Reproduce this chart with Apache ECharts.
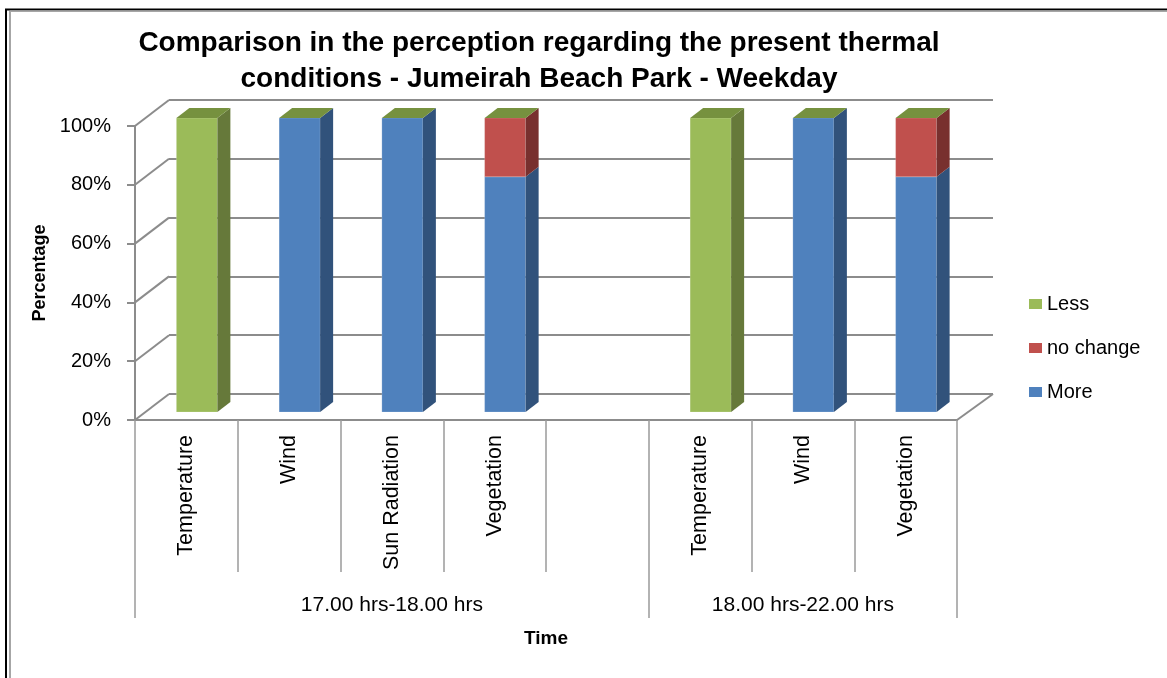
<!DOCTYPE html>
<html>
<head>
<meta charset="utf-8">
<script src="https://cdn.jsdelivr.net/npm/echarts@6/dist/echarts.min.js"></script>
<style>
  html, body { margin: 0; padding: 0; background: #fff; }
  #chart { width: 1167px; height: 678px; }
</style>
</head>
<body>
<div id="chart"></div>
<script>
// ---- data ----
const categories = ['Temperature', 'Wind', 'Sun Radiation', 'Vegetation', '', 'Temperature', 'Wind', 'Vegetation'];
const groupLabels = ['', '', '17.00 hrs-18.00 hrs', '', '', '', '18.00 hrs-22.00 hrs', ''];
const groupStarts = [0, 5];
const more     = [0, 1, 1, 0.8, null, 0, 1, 0.8];
const noChange = [0, 0, 0, 0.2, null, 0, 0, 0.2];
const less     = [1, 0, 0, 0,   null, 1, 0, 0];
const yTicks = [0, 0.2, 0.4, 0.6, 0.8, 1];

// ---- styling / geometry of the pseudo-3D frame ----
const FONT = 'Liberation Sans';
const AXIS_GREY = '#8c8c8c';
const DIVIDER_GREY = '#9a9a9a';
const FRONT = { left: 135, top: 126, width: 822, height: 294 };
const WALL_DX = 34, WALL_DY = -26;      // back wall offset
const BAR_DX = 10.5, BAR_DY = -8;        // bar front-face offset from axis plane
const DEPTH_DX = 13, DEPTH_DY = -10;     // bar depth
const FACE_W = 41;

const chart = echarts.init(document.getElementById('chart'), null, { renderer: 'canvas' });

// stacked layer rows: [categoryIndex, base, top]
function layerData(values, below) {
  return values.map(function (v, i) {
    if (v == null) return [i, '-', '-'];
    let base = 0;
    below.forEach(function (arr) { base += arr[i] || 0; });
    return [i, base, base + v];
  });
}

function layerRenderer(front, side, top) {
  return function (params, api) {
    const b = api.value(1), t = api.value(2);
    if (isNaN(b) || isNaN(t)) return null;
    const p0 = api.coord([api.value(0), b]);
    const p1 = api.coord([api.value(0), t]);
    const x0 = p0[0] + BAR_DX - FACE_W / 2, x1 = x0 + FACE_W;
    const yb = p0[1] + BAR_DY, yt = p1[1] + BAR_DY;
    const children = [];
    if (yb - yt > 0.01) {
      children.push({ type: 'rect', shape: { x: x0, y: yt, width: FACE_W, height: yb - yt },
        style: { fill: front, stroke: 'rgba(255,255,255,0.18)', lineWidth: 1 } });
      children.push({ type: 'polygon', shape: { points: [[x1, yb], [x1 + DEPTH_DX, yb + DEPTH_DY], [x1 + DEPTH_DX, yt + DEPTH_DY], [x1, yt]] },
        style: { fill: side } });
    }
    if (top) {
      children.push({ type: 'polygon', shape: { points: [[x0, yt], [x0 + DEPTH_DX, yt + DEPTH_DY], [x1 + DEPTH_DX, yt + DEPTH_DY], [x1, yt]] },
        style: { fill: top } });
    }
    return { type: 'group', children: children };
  };
}

const option = {
  backgroundColor: '#fff',
  animation: false,
  title: {
    text: 'Comparison in the perception regarding the present thermal\nconditions - Jumeirah Beach Park - Weekday',
    left: 539, top: 25, textAlign: 'center', padding: 0,
    textStyle: { fontFamily: FONT, fontWeight: 'bold', fontSize: 28, lineHeight: 36, color: '#000' }
  },
  legend: {
    orient: 'vertical', left: 1024, top: 289, icon: 'rect', itemWidth: 13, itemHeight: 10, itemGap: 24,
    selectedMode: false,
    textStyle: { fontFamily: FONT, fontSize: 20, color: '#000' },
    data: ['Less', 'no change', 'More']
  },
  grid: [
    { left: FRONT.left, top: FRONT.top, width: FRONT.width, height: FRONT.height },
    { left: FRONT.left + WALL_DX, top: FRONT.top + WALL_DY, width: FRONT.width + 2, height: FRONT.height }
  ],
  xAxis: [
    {
      type: 'category', gridIndex: 0, data: categories, boundaryGap: true,
      axisLine: { show: true, lineStyle: { color: AXIS_GREY, width: 2 } },
      axisTick: { show: true, interval: 0, length: 152, lineStyle: { color: DIVIDER_GREY, width: 1.5 } },
      axisLabel: { interval: 0, rotate: 90, margin: 15, fontFamily: FONT, fontSize: 21.5, color: '#000' },
      name: 'Time', nameLocation: 'middle', nameGap: 209,
      nameTextStyle: { fontFamily: FONT, fontWeight: 'bold', fontSize: 19, color: '#000' }
    },
    {
      type: 'category', gridIndex: 0, data: groupLabels, position: 'bottom', boundaryGap: true,
      axisLine: { show: false },
      axisTick: { show: true, interval: function (i) { return groupStarts.indexOf(i) >= 0; }, length: 198,
        lineStyle: { color: DIVIDER_GREY, width: 1.5 } },
      axisLabel: { interval: 0, margin: 175, fontFamily: FONT, fontSize: 21, color: '#000' }
    },
    { type: 'category', gridIndex: 1, data: categories, show: false }
  ],
  yAxis: [
    {
      type: 'value', gridIndex: 0, min: 0, max: 1, interval: 0.2,
      axisLine: { show: true, lineStyle: { color: AXIS_GREY, width: 2 } },
      axisTick: { show: true, length: 8, lineStyle: { color: AXIS_GREY, width: 2 } },
      splitLine: { show: false },
      axisLabel: { margin: 24, padding: [5, 0, 0, 0], fontFamily: FONT, fontSize: 20, color: '#000',
        formatter: function (v) { return Math.round(v * 100) + '%'; } },
      name: 'Percentage', nameLocation: 'middle', nameRotate: 90, nameGap: 86,
      nameTextStyle: { fontFamily: FONT, fontWeight: 'bold', fontSize: 18, color: '#000' }
    },
    {
      type: 'value', gridIndex: 1, min: 0, max: 1, interval: 0.2,
      axisLine: { show: false }, axisTick: { show: false }, axisLabel: { show: false },
      splitLine: { show: true, lineStyle: { color: AXIS_GREY, width: 2 } }
    }
  ],
  graphic: [
    { type: 'line', silent: true, shape: { x1: 5, y1: 9.5, x2: 1167, y2: 9.5 }, style: { stroke: '#000', lineWidth: 2 } },
    { type: 'line', silent: true, shape: { x1: 6, y1: 9, x2: 6, y2: 678 }, style: { stroke: '#000', lineWidth: 2 } },
    { type: 'line', silent: true, shape: { x1: 10, y1: 11.2, x2: 1167, y2: 11.2 }, style: { stroke: '#a6a6a6', lineWidth: 1.5 } },
    { type: 'line', silent: true, shape: { x1: 10, y1: 11, x2: 10, y2: 678 }, style: { stroke: '#a6a6a6', lineWidth: 2 } }
  ],
  series: [
    {
      // side-wall and floor edges joining the front axis to the back wall
      type: 'custom', name: 'frame', xAxisIndex: 0, yAxisIndex: 0, silent: true, z: 1,
      data: yTicks.map(function (v) { return [0, v]; }),
      encode: { x: 0, y: 1 },
      renderItem: function (params, api) {
        const cs = params.coordSys;
        const y = api.coord([0, api.value(1)])[1];
        const lines = [{ type: 'line', shape: { x1: cs.x, y1: y, x2: cs.x + WALL_DX, y2: y + WALL_DY },
          style: { stroke: AXIS_GREY, lineWidth: 2 } }];
        if (api.value(1) === 0) {
          lines.push({ type: 'line', shape: { x1: cs.x + cs.width, y1: y, x2: cs.x + cs.width + WALL_DX + 2, y2: y + WALL_DY },
            style: { stroke: AXIS_GREY, lineWidth: 2 } });
        }
        return { type: 'group', children: lines };
      }
    },
    {
      type: 'custom', name: 'More', xAxisIndex: 0, yAxisIndex: 0, z: 3,
      itemStyle: { color: '#4f81bd' },
      data: layerData(more, []), encode: { x: 0, y: [1, 2] },
      renderItem: layerRenderer('#4f81bd', '#31527b', null)
    },
    {
      type: 'custom', name: 'no change', xAxisIndex: 0, yAxisIndex: 0, z: 3,
      itemStyle: { color: '#c0504d' },
      data: layerData(noChange, [more]), encode: { x: 0, y: [1, 2] },
      renderItem: layerRenderer('#c0504d', '#78302e', null)
    },
    {
      type: 'custom', name: 'Less', xAxisIndex: 0, yAxisIndex: 0, z: 3,
      itemStyle: { color: '#9bbb59' },
      data: layerData(less, [more, noChange]), encode: { x: 0, y: [1, 2] },
      renderItem: layerRenderer('#9bbb59', '#66793a', '#76913f')
    }
  ]
};

chart.setOption(option);
</script>
</body>
</html>
